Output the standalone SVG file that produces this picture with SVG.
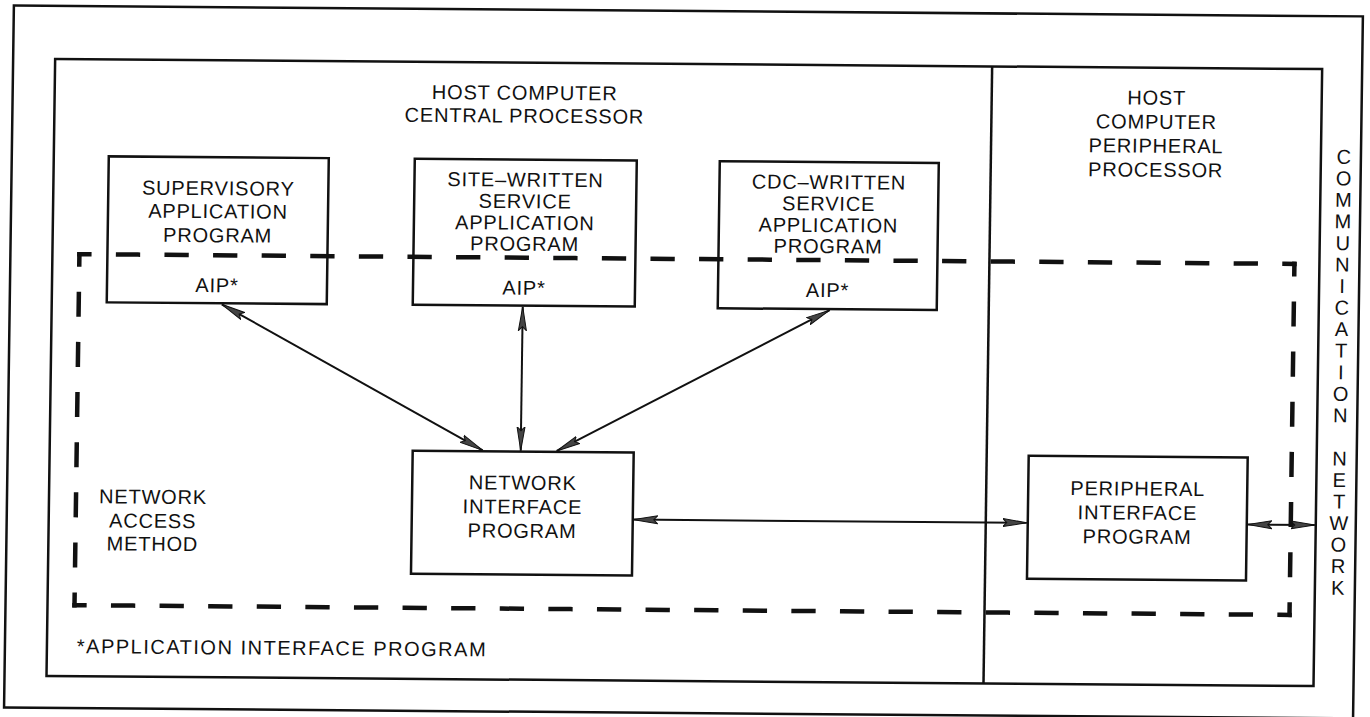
<svg xmlns="http://www.w3.org/2000/svg" width="1370" height="717" viewBox="0 0 1370 717">
<defs>
<style>
.frame{fill:none;stroke:#111;stroke-width:2.5}
.node rect{fill:none;stroke:#111;stroke-width:2.5}
text{font-family:"Liberation Sans",Arial,sans-serif;font-size:20px;fill:#111;letter-spacing:0.8px}
.c{text-anchor:middle}
.dash{fill:none;stroke:#111;stroke-width:4.5;stroke-linecap:square}
.dh{stroke-dasharray:19.8 28.8;stroke-dashoffset:9.9}
.dv{stroke-dasharray:20.57 29.57;stroke-dashoffset:10.29}
.conn line{stroke:#111;stroke-width:2;marker-start:url(#ah);marker-end:url(#ah)}
</style>
<marker id="ah" viewBox="0 0 24 10" refX="24" refY="5" markerWidth="24" markerHeight="10" markerUnits="userSpaceOnUse" orient="auto-start-reverse">
<path d="M0,1 L24,5 L0,9 L4,5 Z" fill="#444" stroke="#111" stroke-width="1"/>
</marker>
</defs>
<rect width="1370" height="717" fill="#fff"/>
<g transform="matrix(1,0.008,-0.014,1,5.04,-5.48)">
<g id="frames">
<rect class="frame" x="9" y="11" width="1349" height="702"/>
<rect class="frame" x="51" y="64" width="1267" height="617"/>
<line class="frame" x1="988" y1="64" x2="988" y2="681"/>
</g>
<g id="network-access-method">
<line class="dash dh" x1="78" y1="259" x2="1293" y2="259"/>
<line class="dash dh" x1="78" y1="610" x2="1293" y2="610"/>
<line class="dash dv" x1="78" y1="259" x2="78" y2="610"/>
<line class="dash dv" x1="1293" y1="259" x2="1293" y2="610"/>
<text class="c" x="155" y="508">NETWORK</text>
<text class="c" x="155" y="532">ACCESS</text>
<text class="c" x="155" y="555">METHOD</text>
</g>
<g id="labels">
<text class="c" x="521" y="101">HOST COMPUTER</text>
<text class="c" x="521" y="124">CENTRAL PROCESSOR</text>
<text class="c" x="1153" y="101">HOST</text>
<text class="c" x="1153" y="125">COMPUTER</text>
<text class="c" x="1153" y="149">PERIPHERAL</text>
<text class="c" x="1153" y="173">PROCESSOR</text>
<text x="81" y="658" style="letter-spacing:1.5px">*APPLICATION INTERFACE PROGRAM</text>
<text class="c" style="letter-spacing:0"><tspan x="1341" y="158.5">C</tspan><tspan x="1341" y="180">O</tspan><tspan x="1341" y="201.6">M</tspan><tspan x="1341" y="223.1">M</tspan><tspan x="1341" y="244.7">U</tspan><tspan x="1341" y="266.2">N</tspan><tspan x="1341" y="287.8">I</tspan><tspan x="1341" y="309.3">C</tspan><tspan x="1341" y="330.9">A</tspan><tspan x="1341" y="352.4">T</tspan><tspan x="1341" y="374">I</tspan><tspan x="1341" y="395.5">O</tspan><tspan x="1341" y="417.1">N</tspan><tspan x="1341" y="460.2">N</tspan><tspan x="1341" y="481.7">E</tspan><tspan x="1341" y="503.3">T</tspan><tspan x="1341" y="524.8">W</tspan><tspan x="1341" y="546.4">O</tspan><tspan x="1341" y="567.9">R</tspan><tspan x="1341" y="589.5">K</tspan></text>
</g>
<g id="supervisory" class="node">
<rect x="106" y="161" width="220" height="146"/>
<text class="c" x="216" y="199">SUPERVISORY</text>
<text class="c" x="216" y="222">APPLICATION</text>
<text class="c" x="216" y="246">PROGRAM</text>
<text class="c" x="216" y="296">AIP*</text>
</g>
<g id="site-written" class="node">
<rect x="412" y="161" width="222" height="146"/>
<text class="c" x="523" y="188">SITE–WRITTEN</text>
<text class="c" x="523" y="209.5">SERVICE</text>
<text class="c" x="523" y="231">APPLICATION</text>
<text class="c" x="523" y="252">PROGRAM</text>
<text class="c" x="523" y="296">AIP*</text>
</g>
<g id="cdc-written" class="node">
<rect x="717" y="161" width="219" height="147"/>
<text class="c" x="826.5" y="188">CDC–WRITTEN</text>
<text class="c" x="826.5" y="209.5">SERVICE</text>
<text class="c" x="826.5" y="231">APPLICATION</text>
<text class="c" x="826.5" y="252">PROGRAM</text>
<text class="c" x="826.5" y="296">AIP*</text>
</g>
<g id="network-interface" class="node">
<rect x="414" y="453" width="221" height="123"/>
<text class="c" x="524.5" y="491">NETWORK</text>
<text class="c" x="524.5" y="515">INTERFACE</text>
<text class="c" x="524.5" y="539">PROGRAM</text>
</g>
<g id="peripheral-interface" class="node">
<rect x="1030" y="453" width="219" height="123"/>
<text class="c" x="1139.5" y="492">PERIPHERAL</text>
<text class="c" x="1139.5" y="516">INTERFACE</text>
<text class="c" x="1139.5" y="540">PROGRAM</text>
</g>
<g id="connectors" class="conn">
<line x1="221" y1="308" x2="484" y2="452"/>
<line x1="522" y1="308" x2="522" y2="452"/>
<line x1="829" y1="309" x2="558" y2="452"/>
<line x1="636" y1="520" x2="1029" y2="520"/>
<line x1="1250" y1="520" x2="1317" y2="520"/>
</g>
</g>
</svg>
